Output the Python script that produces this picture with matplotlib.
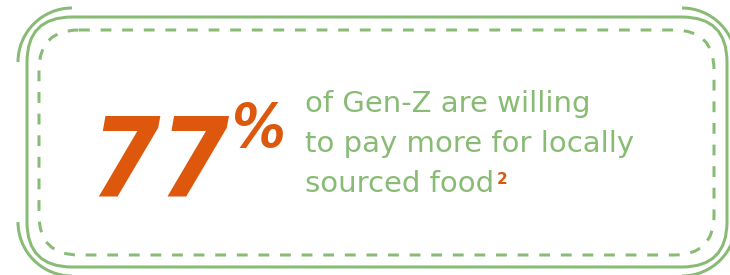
import matplotlib.pyplot as plt
from matplotlib.patches import FancyBboxPatch, Arc

stat_value = "77"
stat_unit = "%"
caption_lines = ["of Gen-Z are willing", "to pay more for locally", "sourced food"]
footnote = "2"

green = "#88bb74"
orange = "#dd580d"

W, H = 730, 275
fig = plt.figure(figsize=(W / 100, H / 100), dpi=100)
ax = fig.add_axes([0, 0, 1, 1])
ax.set_xlim(0, W)
ax.set_ylim(H, 0)
ax.axis("off")

px = 0.72  # points per pixel at dpi 100

# solid outer frame
ax.add_patch(FancyBboxPatch((27 + 45, 17 + 45), 700 - 90, 250 - 90,
                            boxstyle="round,pad=45", fill=False,
                            edgecolor=green, lw=3 * px))
# dashed inner frame
ax.add_patch(FancyBboxPatch((39 + 40, 30 + 40), 675 - 80, 225 - 80,
                            boxstyle="round,pad=40", fill=False,
                            edgecolor=green, lw=3 * px,
                            linestyle=(0, (3.6, 3.6)), capstyle="butt"))
# corner arcs outside the frame
r = 54
for cx, cy, t1, t2 in [(72, 62, 180, 270), (682, 62, 270, 360),
                       (72, 222, 90, 180), (682, 222, 0, 90)]:
    ax.add_patch(Arc((cx, cy), 2 * r, 2 * r, theta1=t1, theta2=t2,
                     color=green, lw=3 * px))

# big stat
big = dict(color=orange, family="DejaVu Sans", fontweight="heavy",
           fontstyle="oblique", fontstretch="condensed", va="baseline")
ax.text(90, 196, stat_value, fontsize=80, ha="left", **big)
ax.text(231, 147, stat_unit, fontsize=43, ha="left", **big)

# caption
cap = None
for i, line in enumerate(caption_lines):
    cap = ax.text(305, 112 + 40 * i, line, color=green, fontsize=21,
                  family="DejaVu Sans", ha="left", va="baseline")
fig.canvas.draw()
bb = cap.get_window_extent().transformed(ax.transData.inverted())
ax.text(bb.x1 + 3, 184, footnote, color=orange, fontsize=11,
        fontweight="bold", family="DejaVu Sans",
        ha="left", va="baseline")

fig.savefig("out.png", dpi=100)
